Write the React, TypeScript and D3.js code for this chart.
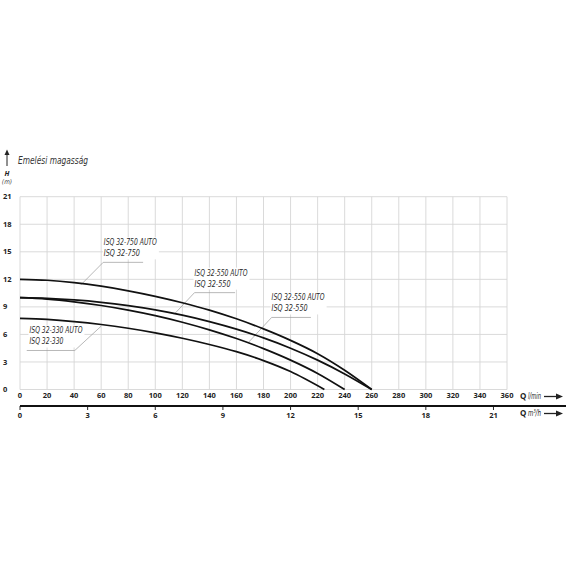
import React from "react";
import * as d3 from "d3";

// ---- Data ----
const flowTicksLmin = [0, 20, 40, 60, 80, 100, 120, 140, 160, 180, 200, 220, 240, 260, 280, 300, 320, 340, 360];
const flowTicksM3h = [0, 3, 6, 9, 12, 15, 18, 21];
const headTicks = [0, 3, 6, 9, 12, 15, 18, 21];

const q750 = [0, 20, 40, 60, 80, 100, 120, 140, 160, 180, 200, 220, 240, 260];
const h750 = [12, 11.9, 11.64, 11.25, 10.75, 10.15, 9.45, 8.65, 7.7, 6.6, 5.35, 3.9, 2.1, 0];

const q550a = [0, 20, 40, 60, 80, 100, 120, 140, 160, 180, 200, 220, 240, 260];
const h550a = [10, 9.93, 9.76, 9.5, 9.14, 8.68, 8.1, 7.4, 6.58, 5.62, 4.5, 3.2, 1.7, 0];

const q550b = [0, 20, 40, 60, 80, 100, 120, 140, 160, 180, 200, 220, 240];
const h550b = [10, 9.85, 9.55, 9.15, 8.65, 8.05, 7.33, 6.5, 5.55, 4.45, 3.2, 1.75, 0];

const q330 = [0, 20, 40, 60, 80, 100, 120, 140, 160, 180, 200, 225];
const h330 = [7.75, 7.63, 7.4, 7.08, 6.67, 6.17, 5.58, 4.9, 4.12, 3.15, 1.95, 0];

const series = [
  { q: q750, h: h750 },
  { q: q550a, h: h550a },
  { q: q550b, h: h550b },
  { q: q330, h: h330 },
];

const labelLines = [
  ["ISQ 32-750 AUTO", "ISQ 32-750"],
  ["ISQ 32-550 AUTO", "ISQ 32-550"],
  ["ISQ 32-550 AUTO", "ISQ 32-550"],
  ["ISQ 32-330 AUTO", "ISQ 32-330"],
];
const labelPosQ = [62, 129, 186, 7];
const labelPosH = [15.7, 12.4, 9.7, 6.1];
// underline extent (q) and pointer target
const underlineFromQ = [61.5, 129, 186, 5];
const underlineToQ = [91, 159, 215, 40.5];
const pointerFromRight = [false, false, false, true];
const labelTargetQ = [45, 114, 169, 60];
const labelTargetH = [11.4, 8.2, 5.15, 6.9];

export default function App() {
  const x = d3.scaleLinear().domain([0, 360]).range([20, 507]);
  const xm = d3.scaleLinear().domain([0, 21.6]).range([20, 507]);
  const y = d3.scaleLinear().domain([0, 21]).range([389.5, 196.7]);

  const line = d3
    .line<[number, number]>()
    .x((d) => x(d[0]))
    .y((d) => y(d[1]))
    .curve(d3.curveCatmullRom.alpha(0.5));

  const narrow = "'Liberation Sans Narrow', 'DejaVu Sans Condensed', 'Open Sans', sans-serif";
  const bold = "'Open Sans', 'DejaVu Sans', sans-serif";
  const axisY = 406;

  return (
    <svg
      width={570}
      height={570}
      style={{ position: "absolute", left: 0, top: 0, background: "#fff" }}
    >
      <rect x={0} y={0} width={570} height={570} fill="#fff" />
      {/* grid */}
      <g stroke="#d6d6d6" strokeWidth={0.9}>
        {flowTicksLmin.map((t) => (
          <line key={"v" + t} x1={x(t)} x2={x(t)} y1={y(21)} y2={y(0)} />
        ))}
        {headTicks.map((t) => (
          <line key={"h" + t} x1={x(0)} x2={x(360)} y1={y(t)} y2={y(t)} />
        ))}
      </g>

      {/* header */}
      <g fill="#222">
        <line x1={7} x2={7} y1={166} y2={153} stroke="#222" strokeWidth={1} />
        <path d="M4.5,155 L7,149.5 L9.5,155 Z" />
        <text x={18} y={163.5} fontFamily={narrow} fontStyle="italic" fontSize={10.5} fill="#333" textLength={70} lengthAdjust="spacingAndGlyphs">
          Emelési magasság
        </text>
        <text x={7} y={176} textAnchor="middle" fontFamily={bold} fontStyle="italic" fontWeight="bold" fontSize={7}>
          H
        </text>
        <text x={7} y={184} textAnchor="middle" fontFamily={narrow} fontStyle="italic" fontSize={6.5} fill="#444">
          (m)
        </text>
      </g>

      {/* y tick labels */}
      <g fontFamily={bold} fontWeight="bold" fontSize={7.5} fill="#222">
        {headTicks.map((t) => (
          <text key={"yl" + t} x={3} y={y(t) + 2.6}>
            {t}
          </text>
        ))}
      </g>

      {/* x tick labels l/min */}
      <g fontFamily={bold} fontWeight="bold" fontSize={7.5} fill="#222" textAnchor="middle">
        {flowTicksLmin.map((t) => (
          <text key={"xl" + t} x={x(t)} y={398}>
            {t}
          </text>
        ))}
      </g>
      <g fill="#222">
        <text x={520} y={399} fontFamily={bold} fontWeight="bold" fontSize={8}>
          Q
        </text>
        <text x={528} y={399} fontFamily={narrow} fontStyle="italic" fontSize={8.5} textLength={13} lengthAdjust="spacingAndGlyphs">
          l/min
        </text>
        <line x1={544} x2={559} y1={396.5} y2={396.5} stroke="#222" strokeWidth={1.3} />
        <path d="M556,393.5 L563,396.5 L556,399.5 Z" />
      </g>

      {/* m3/h axis */}
      <line x1={20} x2={566} y1={axisY} y2={axisY} stroke="#111" strokeWidth={2} />
      <g stroke="#111" strokeWidth={0.9}>
        {flowTicksM3h.map((t) => (
          <line key={"mt" + t} x1={xm(t)} x2={xm(t)} y1={axisY} y2={axisY + 4} />
        ))}
      </g>
      <g fontFamily={bold} fontWeight="bold" fontSize={7.5} fill="#222" textAnchor="middle">
        {flowTicksM3h.map((t) => (
          <text key={"ml" + t} x={xm(t)} y={418}>
            {t}
          </text>
        ))}
      </g>
      <g fill="#222">
        <text x={520} y={416} fontFamily={bold} fontWeight="bold" fontSize={8}>
          Q
        </text>
        <text x={528} y={416} fontFamily={narrow} fontStyle="italic" fontSize={8.5} textLength={13} lengthAdjust="spacingAndGlyphs">
          m³/h
        </text>
        <line x1={544} x2={559} y1={413.5} y2={413.5} stroke="#222" strokeWidth={1.3} />
        <path d="M556,410.5 L563,413.5 L556,416.5 Z" />
      </g>

      {/* label blocks */}
      {labelLines.map((ls, i) => {
        const lx = x(labelPosQ[i]);
        const ly = y(labelPosH[i]);
        const ux0 = x(underlineFromQ[i]);
        const ux1 = x(underlineToQ[i]);
        const uy = ly + 17;
        const px = pointerFromRight[i] ? ux1 : ux0;
        const other = pointerFromRight[i] ? ux0 : ux1;
        return (
          <g key={"lab" + i}>
            <rect x={lx - 1} y={ly - 8} width={56} height={22} fill="#fff" />
            <polyline
              points={`${other},${uy} ${px},${uy} ${x(labelTargetQ[i])},${y(labelTargetH[i])}`}
              fill="none"
              stroke="#999"
              strokeWidth={0.7}
            />
            <text x={lx} y={ly} fontFamily={narrow} fontStyle="italic" fontSize={9} fill="#2a2a2a" textLength={53} lengthAdjust="spacingAndGlyphs">
              {ls[0]}
            </text>
            <text x={lx} y={ly + 11} fontFamily={narrow} fontStyle="italic" fontSize={9} fill="#2a2a2a" textLength={i === 3 ? 34 : 36} lengthAdjust="spacingAndGlyphs">
              {ls[1]}
            </text>
          </g>
        );
      })}

      {/* curves */}
      <g fill="none" stroke="#111" strokeWidth={1.7}>
        {series.map((s, i) => (
          <path key={"c" + i} d={line(s.q.map((q, j) => [q, s.h[j]] as [number, number])) || ""} />
        ))}
      </g>
    </svg>
  );
}
